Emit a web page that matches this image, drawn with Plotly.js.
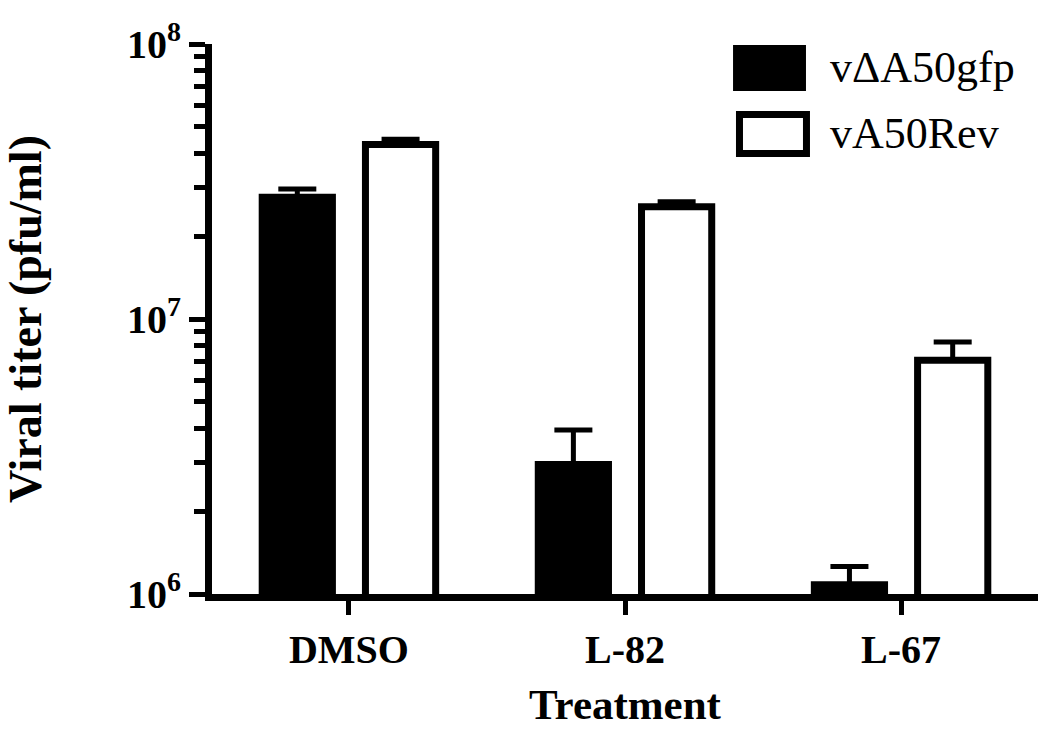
<!DOCTYPE html>
<html>
<head>
<meta charset="utf-8">
<script src="https://cdn.plot.ly/plotly-3.0.1.min.js"></script>
<style>html,body{margin:0;padding:0;background:#fff;}#chart{width:1050px;height:741px;}</style>
</head>
<body>
<div id="chart"></div>
<script>
const categories = ['DMSO', 'L-82', 'L-67'];
const seriesNames = ['v\u0394A50gfp', 'vA50Rev'];
const gfpValues = [2.77e7, 2.96e6, 1.08e6];
const gfpErrUp = [2.0e6, 0.99e6, 0.18e6];
const revValues = [4.31e7, 2.56e7, 7.08e6];
const revErrUp = [1.9e6, 1.1e6, 1.17e6];
const noErr = [0, 0, 0];
const yTickVals = [1e6, 1e7, 1e8];
const yTickExps = ['6', '7', '8'];

const serif = 'Liberation Serif, Times New Roman, serif';
const yTickText = yTickExps.map(e => '10<sup style="font-size:30px">' + e + '</sup>');

const errStyle = {type: 'data', symmetric: false, color: '#000', thickness: 5, width: 19};

const traces = [
  {type: 'bar', name: seriesNames[0], x: categories, y: gfpValues,
   marker: {color: '#000', line: {color: '#000', width: 7}},
   error_y: Object.assign({array: gfpErrUp, arrayminus: noErr}, errStyle),
   showlegend: false},
  {type: 'bar', name: seriesNames[1], x: categories, y: revValues,
   marker: {color: '#fff', line: {color: '#000', width: 7}},
   error_y: Object.assign({array: revErrUp, arrayminus: noErr}, errStyle),
   showlegend: false}
];

const layout = {
  width: 1050, height: 741,
  margin: {l: 212, r: 12, t: 44, b: 147},
  paper_bgcolor: '#fff', plot_bgcolor: '#fff',
  barmode: 'group', bargap: 0.252, bargroupgap: 0.32,
  font: {family: serif, color: '#000'},
  xaxis: {
    type: 'category', range: [-0.496, 2.496],
    showline: true, linecolor: '#000', linewidth: 7,
    ticks: 'outside', ticklen: 14, tickwidth: 5, tickcolor: '#000',
    tickfont: {family: serif, size: 40, weight: 'bold'},
    ticklabelstandoff: 0,
    title: {text: 'Treatment', font: {family: serif, size: 43, weight: 'bold'}, standoff: 20},
    showgrid: false, zeroline: false, fixedrange: true
  },
  yaxis: {
    type: 'log', range: [6, 8],
    showline: true, linecolor: '#000', linewidth: 7,
    tickmode: 'array', tickvals: yTickVals, ticktext: yTickText,
    ticks: 'outside', ticklen: 16, tickwidth: 5, tickcolor: '#000',
    tickfont: {family: serif, size: 40, weight: 'bold'},
    minor: {tickmode: 'linear', dtick: 'D1', ticks: 'outside', ticklen: 11, tickwidth: 5, tickcolor: '#000', showgrid: false},
    title: {text: 'Viral titer (pfu/ml)', font: {family: serif, size: 46, weight: 'bold'}, standoff: 80},
    showgrid: false, zeroline: false, fixedrange: true
  },
  shapes: [
    {type: 'rect', xref: 'paper', yref: 'paper', x0: 0.6308, x1: 0.7191, y0: 0.9145, y1: 0.9982,
     fillcolor: '#000', line: {color: '#000', width: 0}},
    {type: 'rect', xref: 'paper', yref: 'paper', x0: 0.6386, x1: 0.7197, y0: 0.8009, y1: 0.8718,
     fillcolor: '#fff', line: {color: '#000', width: 7}}
  ],
  annotations: [
    {xref: 'paper', yref: 'paper', x: 0.7458, y: 0.9564, xanchor: 'left', yanchor: 'middle',
     text: seriesNames[0], showarrow: false, font: {family: serif, size: 44, color: '#000'}},
    {xref: 'paper', yref: 'paper', x: 0.7458, y: 0.838, xanchor: 'left', yanchor: 'middle',
     text: seriesNames[1], showarrow: false, font: {family: serif, size: 44, color: '#000'}}
  ]
};

Plotly.newPlot('chart', traces, layout, {displayModeBar: false, staticPlot: true});
</script>
</body>
</html>
